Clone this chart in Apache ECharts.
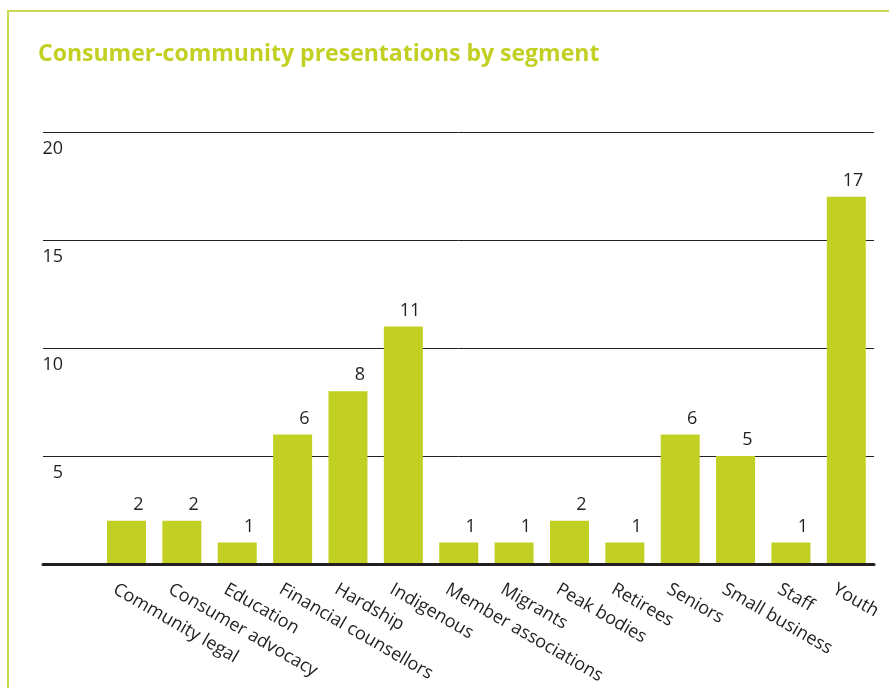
<!DOCTYPE html>
<html>
<head>
<meta charset="utf-8">
<script src="https://cdn.jsdelivr.net/npm/echarts@6/dist/echarts.min.js"></script>
<style>
  html, body { margin: 0; padding: 0; background: #ffffff; }
  #wrap { position: relative; width: 889px; height: 688px; overflow: hidden; }
  #chart { position: absolute; left: 0; top: 0; width: 889px; height: 688px; }
  #frame {
    position: absolute; left: 7px; top: 10px; right: -10px; bottom: -10px;
    border-top: 2px solid #cbd651; border-left: 2px solid #cbd651;
    pointer-events: none;
  }
</style>
</head>
<body>
<div id="wrap">
  <div id="chart"></div>
  <div id="frame"></div>
</div>
<script>
// Presentations delivered to each consumer-community segment
const categories = [
  'Community legal', 'Consumer advocacy', 'Education', 'Financial counsellors',
  'Hardship', 'Indigenous', 'Member associations', 'Migrants', 'Peak bodies',
  'Retirees', 'Seniors', 'Small business', 'Staff', 'Youth'
];
const presentations = [2, 2, 1, 6, 8, 11, 1, 1, 2, 1, 6, 5, 1, 17];
const yTicks = { min: 0, max: 20, interval: 5 };

const LIME = '#c2d023';
const INK = '#231f20';
const FONT = '"Open Sans", "Noto Sans", sans-serif';

// plot geometry shared by the grids
const TOP = 132, BOTTOM = 124, RIGHT = 15;
const BAR_LEFT = 98.8;     // bars are indented from the rules
const LABEL_SHIFT = 12;    // category labels sit a little left of their bars

const chart = echarts.init(document.getElementById('chart'), null, { renderer: 'canvas' });

chart.setOption({
  animation: false,
  title: {
    text: 'Consumer-community presentations by segment',
    left: 38,
    top: 43,
    padding: 0,
    textStyle: { color: LIME, fontFamily: FONT, fontWeight: 'bold', fontSize: 23 }
  },
  grid: [
    // wide grid carrying the horizontal rules, tick labels and baseline
    { left: 43, right: RIGHT, top: TOP, bottom: BOTTOM, outerBoundsMode: 'none' },
    // bar area
    { left: BAR_LEFT, right: RIGHT, top: TOP, bottom: BOTTOM, outerBoundsMode: 'none' },
    // same band width, nudged left, for the rotated category names
    { left: BAR_LEFT - LABEL_SHIFT, right: RIGHT + LABEL_SHIFT, top: TOP, bottom: BOTTOM, outerBoundsMode: 'none' }
  ],
  xAxis: [
    {
      type: 'value', gridIndex: 0, min: 0, max: 1, z: 5,
      axisLine: { show: true, lineStyle: { color: INK, width: 3 } },
      axisTick: { show: false }, axisLabel: { show: false }, splitLine: { show: false }
    },
    {
      type: 'category', gridIndex: 1, data: categories,
      axisLine: { show: false }, axisTick: { show: false }, axisLabel: { show: false }
    },
    {
      type: 'category', gridIndex: 2, data: categories,
      axisLine: { show: false }, axisTick: { show: false },
      axisLabel: {
        interval: 0, rotate: -30, margin: 24,
        color: INK, fontFamily: FONT, fontSize: 18
      }
    }
  ],
  yAxis: [
    {
      type: 'value', gridIndex: 0, min: yTicks.min, max: yTicks.max, interval: yTicks.interval,
      axisLine: { show: false }, axisTick: { show: false },
      splitLine: { show: true, lineStyle: { color: INK, width: 1 } },
      axisLabel: {
        inside: true, margin: 20, align: 'right', verticalAlign: 'top',
        padding: [8, 0, 0, 0], showMinLabel: false,
        color: INK, fontFamily: FONT, fontSize: 18
      }
    },
    {
      type: 'value', gridIndex: 1, min: yTicks.min, max: yTicks.max, interval: yTicks.interval,
      show: false, splitLine: { show: false }
    },
    {
      type: 'value', gridIndex: 2, min: yTicks.min, max: yTicks.max, interval: yTicks.interval,
      show: false, splitLine: { show: false }
    }
  ],
  series: [
    {
      type: 'bar', xAxisIndex: 1, yAxisIndex: 1,
      data: presentations, barWidth: 39,
      itemStyle: { color: LIME },
      label: {
        show: true, position: 'top', distance: 7, align: 'right', offset: [17, 0],
        color: INK, fontFamily: FONT, fontSize: 18
      }
    }
  ]
});
</script>
</body>
</html>
